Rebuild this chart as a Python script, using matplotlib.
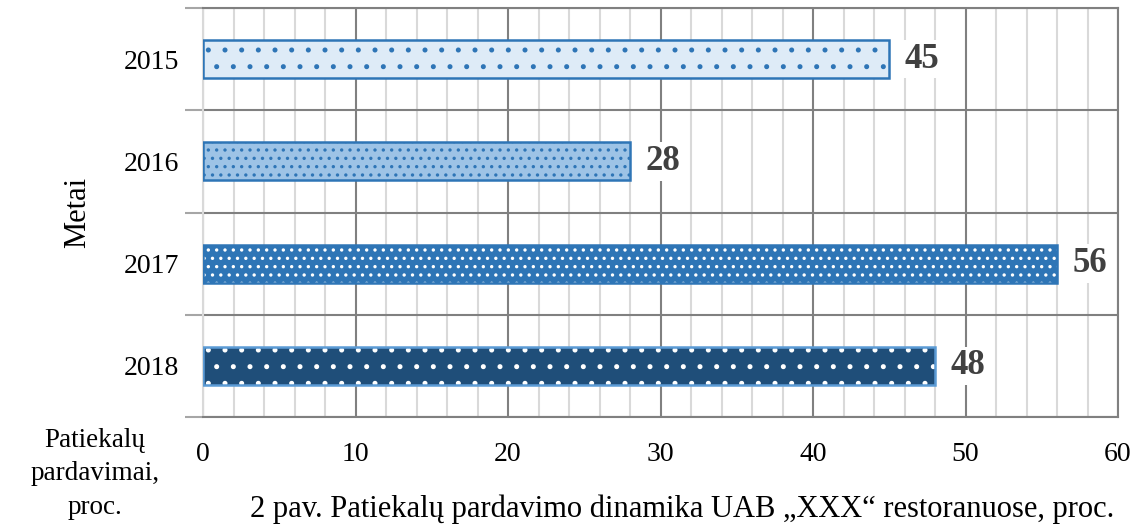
import numpy as np
import matplotlib.pyplot as plt
from matplotlib.ticker import MultipleLocator

years = ['2015', '2016', '2017', '2018']
sales = [45, 28, 56, 48]

fills = ['#DEEBF7', '#9DC3E6', '#2E75B6', '#1F4E79']
dots = ['#2E75B6', '#2E75B6', '#FFFFFF', '#FFFFFF']
hatches = ['.', '..', '..', '.']
edges = ['#2E75B6', '#2E75B6', '#2E75B6', '#5B9BD5']

plt.rcParams['font.family'] = ['Liberation Serif', 'DejaVu Serif']
plt.rcParams['hatch.linewidth'] = 1.2

fig = plt.figure(figsize=(11.45, 5.24), dpi=100)
ax = fig.add_axes([203 / 1145, 1 - 417 / 524, 915 / 1145, 409 / 524])

y = np.arange(len(years))
h = 0.37
ax.barh(y, sales, height=h, color=fills, edgecolor='none', zorder=3)
for i in range(len(years)):
    ax.barh(y[i], sales[i], height=h, color='none', edgecolor=dots[i],
            hatch=hatches[i], linewidth=0, zorder=4)
ax.barh(y, sales, height=h, color='none', edgecolor=edges, linewidth=1.8, zorder=5)

for i, v in enumerate(sales):
    ax.annotate(str(v), (v, y[i]), xytext=(11, 0), textcoords='offset points',
                ha='left', va='center', fontsize=25, fontweight='bold', color='#404040',
                bbox=dict(facecolor='white', edgecolor='none', pad=2), zorder=6)

ax.set_xlim(0, 60)
ax.set_ylim(len(years) - 0.5, -0.5)
ax.xaxis.set_major_locator(MultipleLocator(10))
ax.xaxis.set_minor_locator(MultipleLocator(2))
ax.grid(which='minor', axis='x', color='#D9D9D9', linewidth=1.5, zorder=1)
ax.grid(which='major', axis='x', color='#808080', linewidth=1.5, zorder=2)

ax.set_yticks(y)
ax.set_yticklabels(years)
ax.set_yticks(np.arange(-0.5, len(years)), minor=True)
ax.grid(which='minor', axis='y', color='#808080', linewidth=1.5, zorder=2)
ax.tick_params(axis='y', which='major', length=0, pad=17, labelsize=20)
ax.tick_params(axis='y', which='minor', length=13, width=1.5, color='#A6A6A6')
ax.tick_params(axis='x', which='both', length=0, pad=18, labelsize=20)

for s in ['top', 'right', 'bottom']:
    ax.spines[s].set_color('#808080')
    ax.spines[s].set_linewidth(1.5)
ax.spines['left'].set_color('#D9D9D9')
ax.spines['left'].set_linewidth(1.5)
ax.spines['left'].set_zorder(2.5)

fig.text(78 / 1145, 1 - 212 / 524, 'Metai', rotation=90, ha='center', va='center', fontsize=22)
fig.text(95 / 1145, 1 - 474 / 524, 'Patiekalų\npardavimai,\nproc.', ha='center', va='center',
         fontsize=19.5, linespacing=1.45)
fig.text(250 / 1145, 1 - 517 / 524,
         '2 pav. Patiekalų pardavimo dinamika UAB „XXX“ restoranuose, proc.',
         ha='left', va='baseline', fontsize=22)

fig.savefig('out.png', dpi=100)
